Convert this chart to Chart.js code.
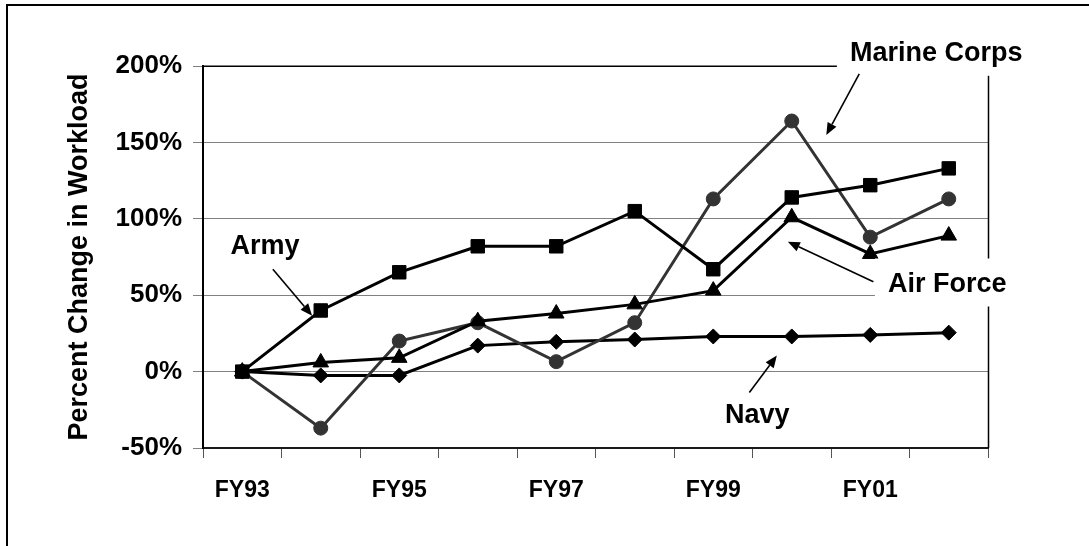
<!DOCTYPE html>
<html>
<head>
<meta charset="utf-8">
<script src="https://cdn.jsdelivr.net/npm/chart.js@4.4.1/dist/chart.umd.min.js"></script>
<style>
  html, body { margin: 0; padding: 0; background: #fff; overflow: hidden; }
  #frame { position: absolute; left: 6px; top: 4px; width: 1300px; height: 800px; border: 2px solid #000; }
  #wrap { position: absolute; left: 0; top: 0; width: 1089px; height: 546px; }
</style>
</head>
<body>
<div id="frame"></div>
<div id="wrap"><canvas id="chart" width="1089" height="546"></canvas></div>
<script>
// ===== Data (percent change in workload vs FY93) =====
const years = ['FY93', 'FY94', 'FY95', 'FY96', 'FY97', 'FY98', 'FY99', 'FY00', 'FY01', 'FY02'];
const army = [0, 40, 65, 82, 82, 105, 67, 114, 122, 133];
const navy = [0, -2.5, -2.5, 17, 19.5, 21, 23, 23, 24, 25.5];
const airForce = [0, 6, 9, 33, 38, 44, 53, 101, 77, 89];
const marineCorps = [0, -37, 20, 32, 6.5, 32, 113, 164, 88, 113];
const yMin = -50, yMax = 200, yStep = 50;

// callout labels, placed in data units (category index, percent)
const callouts = [
  { text: 'Army', at: [0.29, 82], from: [0.39, 67], to: [0.89, 36.6], mask: false },
  { text: 'Marine Corps', at: [8.84, 208], from: [7.86, 194.8], to: [7.44, 154.9], mask: true },
  { text: 'Air Force', at: [8.98, 57], from: [8.04, 58.8], to: [6.95, 85], mask: true },
  { text: 'Navy', at: [6.56, -28.8], from: [6.46, -13.7], to: [6.81, 10.5], mask: false }
];

const FONT = "'Liberation Sans', Arial, sans-serif";

function drawArrow(ctx, x1, y1, x2, y2) {
  const ang = Math.atan2(y2 - y1, x2 - x1);
  const len = 12, half = 5;
  const bx = x2 - Math.cos(ang) * len, by = y2 - Math.sin(ang) * len;
  ctx.beginPath();
  ctx.moveTo(x1, y1);
  ctx.lineTo(bx, by);
  ctx.stroke();
  ctx.beginPath();
  ctx.moveTo(x2, y2);
  ctx.lineTo(bx + Math.sin(ang) * half, by - Math.cos(ang) * half);
  ctx.lineTo(bx - Math.sin(ang) * half, by + Math.cos(ang) * half);
  ctx.closePath();
  ctx.fill();
}

const overlayPlugin = {
  id: 'overlay',
  beforeDatasetsDraw(chart) {
    const { ctx, chartArea: a } = chart;
    ctx.save();
    ctx.strokeStyle = '#000';
    ctx.lineWidth = 1.5;
    ctx.beginPath();
    ctx.moveTo(a.left, a.top + 0.25);
    ctx.lineTo(a.right, a.top + 0.25);
    ctx.moveTo(a.right + 0.5, a.top);
    ctx.lineTo(a.right + 0.5, a.bottom);
    ctx.stroke();
    ctx.restore();
  },
  afterDatasetsDraw(chart) {
    const { ctx } = chart;
    const xs = chart.scales.x, ys = chart.scales.y;
    const px = (p) => [xs.getPixelForValue(p[0]), ys.getPixelForValue(p[1])];
    ctx.save();
    ctx.font = 'bold 27px ' + FONT;
    ctx.textAlign = 'center';
    ctx.textBaseline = 'middle';
    callouts.forEach(c => {
      const [tx, ty] = px(c.at);
      if (c.mask) {
        const w = ctx.measureText(c.text).width;
        ctx.fillStyle = '#fff';
        ctx.fillRect(tx - w / 2 - 13, ty - 26, w + 40, 48);
      }
      ctx.fillStyle = '#000';
      ctx.fillText(c.text, tx, ty);
      ctx.strokeStyle = '#000';
      ctx.lineWidth = 1.6;
      const [x1, y1] = px(c.from);
      const [x2, y2] = px(c.to);
      drawArrow(ctx, x1, y1, x2, y2);
    });
    ctx.restore();
  }
};

function series(label, data, color, style, radius, width) {
  return {
    label, data,
    borderColor: color,
    backgroundColor: color,
    borderWidth: width,
    pointStyle: style,
    pointRadius: radius,
    pointBackgroundColor: color,
    pointBorderColor: color,
    pointBorderWidth: 1,
    tension: 0,
    fill: false
  };
}

new Chart(document.getElementById('chart').getContext('2d'), {
  type: 'line',
  data: {
    labels: years,
    datasets: [
      series('Air Force', airForce, '#000', 'triangle', 9, 3),
      series('Army', army, '#000', 'rect', 9.5, 3),
      series('Marine Corps', marineCorps, '#333', 'circle', 7, 3),
      series('Navy', navy, '#000', 'rectRot', 7.5, 3)
    ]
  },
  options: {
    responsive: false,
    animation: false,
    layout: { padding: { top: 66, right: 101, left: 63, bottom: 0 } },
    plugins: {
      legend: { display: false },
      tooltip: { enabled: false }
    },
    scales: {
      x: {
        offset: true,
        grid: { offset: true, drawOnChartArea: false, drawTicks: true, tickLength: 10, color: '#555' },
        border: { color: '#1a1a1a', width: 2 },
        ticks: {
          autoSkip: false,
          maxRotation: 0,
          padding: 19,
          color: '#000',
          font: { family: FONT, size: 23, weight: 'bold' },
          callback: (v, i) => (i % 2 === 0 ? years[i] : '')
        },
        afterFit: (s) => { s.height = 546 - 448; }
      },
      y: {
        min: yMin,
        max: yMax,
        grid: {
          color: (c) => (c.tick && c.tick.value === yMin ? 'rgba(0,0,0,0)' : '#808080'),
          tickColor: '#808080',
          tickLength: 10,
          lineWidth: 1
        },
        border: { color: '#000', width: 2 },
        ticks: {
          stepSize: yStep,
          padding: 11,
          color: '#000',
          font: { family: FONT, size: 26, weight: 'bold' },
          callback: (v) => v + '%'
        },
        title: {
          display: true,
          text: 'Percent Change in Workload',
          color: '#000',
          padding: { top: 0, bottom: 0 },
          font: { family: FONT, size: 27, weight: 'bold' }
        },
        afterFit: (s) => { s.width = 203 - 63; }
      }
    }
  },
  plugins: [overlayPlugin]
});
</script>
</body>
</html>
